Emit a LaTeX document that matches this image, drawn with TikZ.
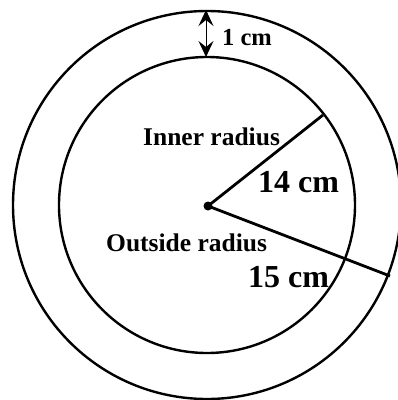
\documentclass[tikz,border=0pt]{standalone}
\usepackage{fontspec}
\setmainfont{Liberation Serif}
\usetikzlibrary{arrows.meta}
\tikzset{
  ring/.style={line width=2.4pt},
  radline/.style={line width=2.8pt},
  lbl/.style={inner sep=0pt, anchor=base west, font=\bfseries\fontsize{25.5}{30}\selectfont},
  biglbl/.style={inner sep=0pt, anchor=base west, font=\bfseries\fontsize{32}{38}\selectfont},
  gaparrow/.style={line width=1pt, {Stealth[length=16pt,width=15pt,inset=6pt]}-{Stealth[length=16pt,width=15pt,inset=6pt]}}
}
\begin{document}
\begin{tikzpicture}[x=1pt,y=-1pt]
\useasboundingbox (0,0) rectangle (398,400);
\fill[white] (0,0) rectangle (398,400);
\coordinate (o) at (207,205);
\draw[ring] (o) circle[radius=194];
\draw[ring] (o) circle[radius=148];
\node[circle, fill=black, inner sep=0pt, minimum size=9pt] (c) at (208,206) {};
\coordinate (pin) at (323,115);
\coordinate (pout) at (390,276);
\draw[radline] (c.center) -- (pin);
\draw[radline] (c.center) -- (pout);
\coordinate (atop) at (206,10);
\coordinate (abot) at (206,57);
\draw[gaparrow] (atop) -- (abot);
\node[lbl, font=\bfseries\fontsize{24.5}{29}\selectfont] (t1) at (222,45) {1 cm};
\node[lbl] (tin) at (143,145) {Inner radius};
\node[biglbl] (t14) at (258,192) {14 cm};
\node[lbl] (tout) at (106,251) {Outside radius};
\node[biglbl] (t15) at (248,287) {15 cm};
\end{tikzpicture}
\end{document}
